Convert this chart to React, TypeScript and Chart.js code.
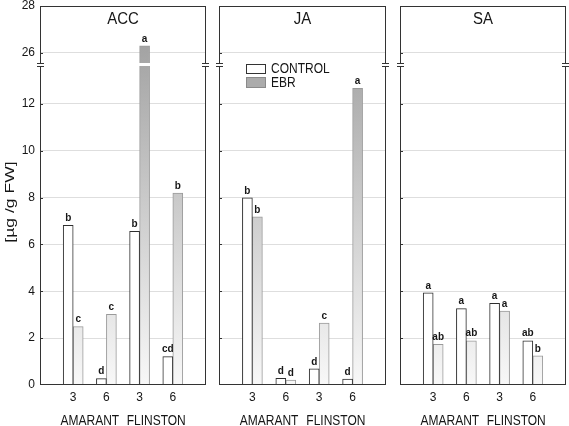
import React, { useEffect, useRef } from 'react';
import { Chart, registerables } from 'chart.js';
Chart.register(...registerables);

// ---------- data ----------
const panelTitles = ['ACC', 'JA', 'SA'];
const xTickLabels = ['3', '6', '3', '6'];
const groupLabels = ['AMARANT', 'FLINSTON'];
const seriesNames = ['CONTROL', 'EBR'];
const yTitle = '[µg /g FW]';
const yTickValues = [0, 2, 4, 6, 8, 10, 12, 26, 28];

const accControl = [6.82, 0.27, 6.56, 1.21];
const accEbr = [2.49, 3.02, 26.3, 8.19];
const jaControl = [7.99, 0.28, 0.69, 0.25];
const jaEbr = [7.18, 0.21, 2.64, 12.67];
const saControl = [3.93, 3.26, 3.49, 1.89];
const saEbr = [1.74, 1.89, 3.16, 1.24];

const accControlLetters = ['b', 'd', 'b', 'cd'];
const accEbrLetters = ['c', 'c', 'a', 'b'];
const jaControlLetters = ['b', 'd', 'd', 'd'];
const jaEbrLetters = ['b', 'd', 'c', 'a'];
const saControlLetters = ['a', 'a', 'a', 'ab'];
const saEbrLetters = ['ab', 'ab', 'a', 'b'];

const controls = [accControl, jaControl, saControl];
const ebrs = [accEbr, jaEbr, saEbr];
const controlLetters = [accControlLetters, jaControlLetters, saControlLetters];
const ebrLetters = [accEbrLetters, jaEbrLetters, saEbrLetters];

// ---------- broken axis ----------
const BREAK_LIMIT = 20;
const BREAK_SHIFT = 11.82;
const BREAK_AT = 13.66;
const toAxis = (v: number) => (v > BREAK_LIMIT ? v - BREAK_SHIFT : v);

// ---------- layout ----------
const W = 569;
const H = 426;
const PANEL_LEFT = [40, 219, 400];
const PANEL_RIGHT = [206, 386, 566];
const PLOT_TOP = 6;
const PLOT_BOTTOM = 385;
const FAMILY = '"Liberation Sans", Arial, sans-serif';
const TEXT = '#161616';

function drawText(
  ctx: CanvasRenderingContext2D,
  text: string,
  x: number,
  y: number,
  font: string,
  sx = 1,
  sy = 1,
  rot = 0,
  align: CanvasTextAlign = 'center'
) {
  ctx.save();
  ctx.translate(x, y);
  if (rot) ctx.rotate(rot);
  ctx.scale(sx, sy);
  ctx.font = font;
  ctx.fillStyle = TEXT;
  ctx.textAlign = align;
  ctx.textBaseline = 'middle';
  ctx.fillText(text, 0, 0);
  ctx.restore();
}

function decorPlugin(pi: number) {
  return {
    id: 'decor' + pi,
    afterDatasetsDraw(chart: any) {
      const { ctx, chartArea: a, scales } = chart;
      const y = scales.y;
      const x = scales.x;
      const by = Math.round(y.getPixelForValue(BREAK_AT));
      ctx.save();
      // gaps in broken bars
      chart.data.datasets.forEach((ds: any, di: number) => {
        const meta = chart.getDatasetMeta(di);
        meta.data.forEach((el: any, i: number) => {
          if (ds.rawValues[i] > BREAK_LIMIT) {
            ctx.fillStyle = '#ffffff';
            ctx.fillRect(el.x - el.width / 2 - 1, by - 2, el.width + 2, 3);
          }
        });
      });
      // letters above bars
      ctx.font = `bold 10px ${FAMILY}`;
      ctx.fillStyle = TEXT;
      ctx.textAlign = 'center';
      ctx.textBaseline = 'bottom';
      chart.data.datasets.forEach((ds: any, di: number) => {
        const meta = chart.getDatasetMeta(di);
        meta.data.forEach((el: any, i: number) => {
          ctx.fillText(ds.letters[i], el.x, el.y - 2);
        });
      });
      // frame
      ctx.strokeStyle = '#333333';
      ctx.lineWidth = 1;
      ctx.strokeRect(a.left + 0.5, a.top + 0.5, a.right - a.left - 1, a.bottom - a.top - 1);
      // inward ticks on left border
      y.ticks.forEach((t: any) => {
        const py = Math.round(y.getPixelForValue(t.value)) + 0.5;
        if (py > a.top + 2 && py < a.bottom - 2) {
          ctx.beginPath();
          ctx.moveTo(a.left, py);
          ctx.lineTo(a.left + 3, py);
          ctx.stroke();
        }
      });
      // break marks on both borders
      [a.left, a.right - 1].forEach((bx: number) => {
        ctx.fillStyle = '#ffffff';
        ctx.fillRect(bx - 4, by - 1, 9, 2);
        ctx.beginPath();
        ctx.moveTo(bx - 3, by - 1.5);
        ctx.lineTo(bx + 4, by - 1.5);
        ctx.moveTo(bx - 3, by + 1.5);
        ctx.lineTo(bx + 4, by + 1.5);
        ctx.stroke();
      });
      // panel title
      drawText(ctx, panelTitles[pi], (a.left + a.right) / 2, a.top + 13.5, `15px ${FAMILY}`, 1, 1.1);
      // group labels
      groupLabels.forEach((g, gi) => {
        const cx = x.getPixelForValue(gi * 2 + 1.5);
        drawText(ctx, g, cx, 421, `12px ${FAMILY}`, 1, 1.15);
      });
      // y title
      if (pi === 0) {
        drawText(ctx, yTitle, 10, 202, `13.5px ${FAMILY}`, 1.3, 1, -Math.PI / 2);
      }
      // legend in middle panel
      if (pi === 1) {
        const lx = a.left + 27;
        const rows = [64, 77];
        chart.data.datasets.forEach((ds: any, di: number) => {
          const ry = rows[di];
          const h = di === 0 ? 10 : 11;
          ctx.fillStyle = di === 0 ? '#ffffff' : '#ababab';
          ctx.fillRect(lx, ry, 20, h);
          ctx.strokeStyle = di === 0 ? '#333333' : '#8a8a8a';
          ctx.strokeRect(lx + 0.5, ry + 0.5, 19, h - 1);
          drawText(ctx, ds.label, lx + 25, ry + h / 2, `12px ${FAMILY}`, 1, 1.22, 0, 'left');
        });
      }
      ctx.restore();
    },
  };
}

function makeConfig(pi: number): any {
  const yWidth = pi === 0 ? 40 : 0;
  const top = toAxis(28);
  return {
    type: 'bar',
    data: {
      datasets: [
        {
          label: seriesNames[0],
          data: controls[pi].map((v, i) => ({ x: i + 1, y: toAxis(v) })),
          rawValues: controls[pi],
          letters: controlLetters[pi],
          backgroundColor: '#ffffff',
          borderColor: '#2e2e2e',
          borderWidth: 1,
          barThickness: 10,
        },
        {
          label: seriesNames[1],
          data: ebrs[pi].map((v, i) => ({ x: i + 1, y: toAxis(v) })),
          rawValues: ebrs[pi],
          letters: ebrLetters[pi],
          backgroundColor: (c: any) => {
            const area = c.chart.chartArea;
            if (!area) return '#cccccc';
            const g = c.chart.ctx.createLinearGradient(0, area.top, 0, area.bottom);
            g.addColorStop(0, '#999999');
            g.addColorStop(1, '#f8f8f8');
            return g;
          },
          borderColor: '#9a9a9a',
          borderWidth: 1,
          barThickness: 10,
        },
      ],
    },
    options: {
      responsive: false,
      animation: false,
      devicePixelRatio: 1,
      layout: {
        padding: { left: PANEL_LEFT[pi] - yWidth, right: W - PANEL_RIGHT[pi], top: PLOT_TOP, bottom: 0 },
      },
      plugins: { legend: { display: false }, tooltip: { enabled: false }, title: { display: false } },
      scales: {
        x: {
          type: 'linear',
          min: 0,
          max: xTickLabels.length + 1,
          offset: false,
          grid: { display: false, drawTicks: false },
          border: { display: false },
          afterBuildTicks: (s: any) => {
            s.ticks = xTickLabels.map((_, i) => ({ value: i + 1 }));
          },
          afterFit: (s: any) => {
            s.height = H - PLOT_BOTTOM;
            s.paddingLeft = 0;
            s.paddingRight = 0;
          },
          ticks: {
            autoSkip: false,
            maxRotation: 0,
            padding: 5,
            color: TEXT,
            font: { size: 12, family: FAMILY },
            callback: (_v: any, i: number) => xTickLabels[i],
          },
        },
        y: {
          type: 'linear',
          min: 0,
          max: top,
          grid: {
            drawTicks: false,
            color: (c: any) =>
              c.tick && (c.tick.value <= 0.001 || c.tick.value >= top - 0.001) ? 'rgba(0,0,0,0)' : '#dedede',
          },
          border: { display: false },
          afterBuildTicks: (s: any) => {
            s.ticks = yTickValues.map((v) => ({ value: toAxis(v) }));
          },
          afterFit: (s: any) => {
            s.width = yWidth;
            s.paddingTop = 0;
            s.paddingBottom = 0;
          },
          ticks: {
            display: pi === 0,
            padding: 5,
            color: TEXT,
            font: { size: 12, family: FAMILY },
            callback: (_v: any, i: number) => String(yTickValues[i]),
          },
          title: { display: false },
        },
      },
    },
    plugins: [decorPlugin(pi)],
  };
}

export default function App() {
  const r0 = useRef<HTMLCanvasElement>(null);
  const r1 = useRef<HTMLCanvasElement>(null);
  const r2 = useRef<HTMLCanvasElement>(null);
  const refs = [r0, r1, r2];
  useEffect(() => {
    const charts = refs.map((r, i) => new Chart(r.current as HTMLCanvasElement, makeConfig(i)));
    return () => charts.forEach((c) => c.destroy());
  }, []);
  return (
    <div style={{ position: 'fixed', left: 0, top: 0, width: W, height: H, background: '#ffffff' }}>
      {refs.map((r, i) => (
        <canvas
          key={i}
          ref={r}
          width={W}
          height={H}
          style={{ position: 'absolute', left: 0, top: 0, width: W, height: H }}
        />
      ))}
    </div>
  );
}
